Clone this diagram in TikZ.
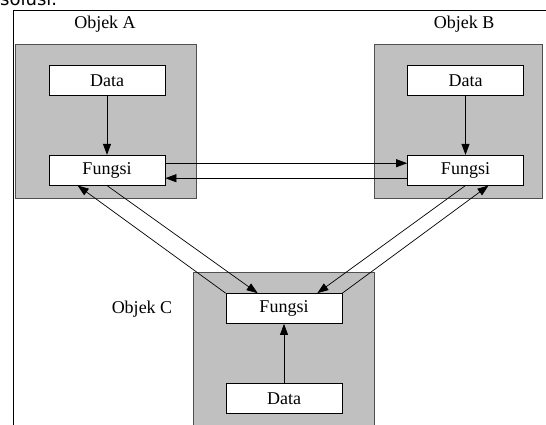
\documentclass[tikz,border=0pt]{standalone}
\usepackage{fontspec}
\setmainfont{Liberation Serif}
\newfontfamily\capfont{DejaVu Sans}
\usetikzlibrary{arrows.meta,positioning}
\definecolor{panelgray}{HTML}{C0C0C0}
\definecolor{edgegray}{HTML}{505050}

\begin{document}
\begin{tikzpicture}[x=1pt, y=-1pt, node distance=59pt,
  panel/.style={draw=edgegray, fill=panelgray, line width=0.8pt, inner sep=0pt},
  unit/.style={draw, fill=white, line width=0.7pt, minimum width=116pt, minimum height=30pt, inner sep=0pt, font=\fontsize{18}{21}\selectfont},
  objtitle/.style={font=\fontsize{18}{21}\selectfont, inner sep=0pt},
  arr/.style={-{Triangle[length=11pt,width=8pt]}, line width=0.7pt}]
  \useasboundingbox (0,0) rectangle (546,424);
  \clip (0,0) rectangle (546,424);

  % text above the figure
  \node[anchor=base west, inner sep=0pt, font=\capfont\fontsize{18}{20}\selectfont] (caption) at (0,5) {solusi.};

  % outer frame
  \draw[line width=0.9pt] (13,440) -- (13,10) -- (560,10);

  % grey object panels
  \node[panel, minimum width=181pt, minimum height=154pt] (pA) at (105.5,121) {};
  \node[panel, minimum width=168pt, minimum height=154pt] (pB) at (458,121) {};
  \node[panel, minimum width=181pt, minimum height=180pt] (pC) at (283.5,362) {};

  \node[objtitle] (tA) at (105,24) {Objek A};
  \node[objtitle] (tB) at (464,24) {Objek B};
  \node[objtitle] (tC) at (142,309) {Objek C};

  % data and function boxes
  \node[unit] (dA) at (107,80.5) {Data};
  \node[unit, below=of dA] (fA) {Fungsi};
  \node[unit] (dB) at (465.5,80.5) {Data};
  \node[unit, below=of dB] (fB) {Fungsi};
  \node[unit] (fC) at (284,308.5) {Fungsi};
  \node[unit, below=of fC] (dC) {Data};

  \draw[arr] (dA) -- (fA);
  \draw[arr] (dB) -- (fB);
  \draw[arr] (dC) -- (fC);

  % messages between objects
  \draw[arr] ([yshift=7pt]fA.east) -- ([yshift=7pt]fB.west);
  \draw[arr] ([yshift=-8pt]fB.west) -- ([yshift=-8pt]fA.east);
  \draw[arr] (fC.north west) -- ([xshift=29pt]fA.south west);
  \draw[arr] (fA.south) -- ([xshift=32pt]fC.north west);
  \draw[arr] (fB.south) -- ([xshift=-25pt]fC.north east);
  \draw[arr] (fC.north east) -- ([xshift=23pt]fB.south);
\end{tikzpicture}
\end{document}
